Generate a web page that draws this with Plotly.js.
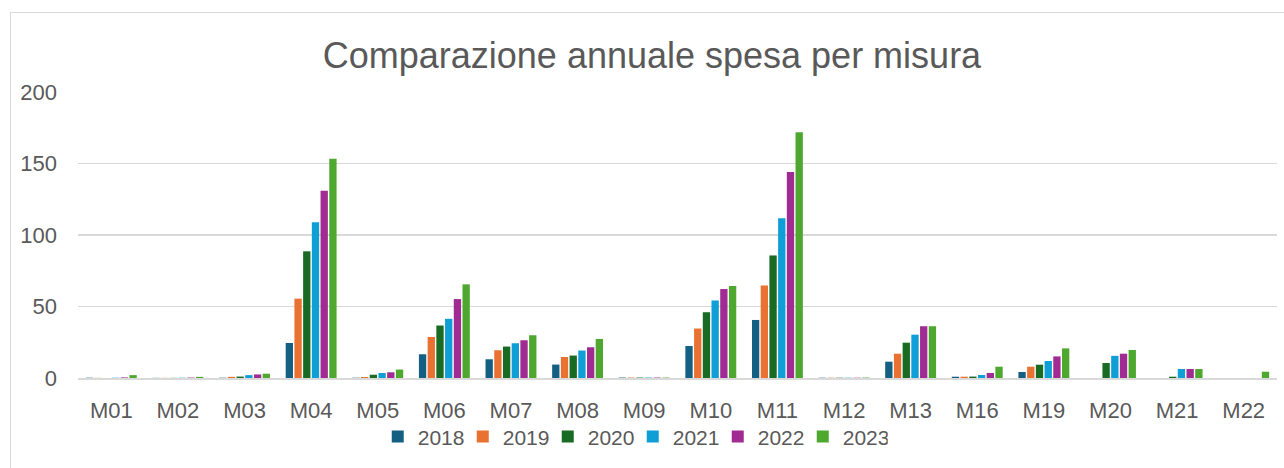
<!DOCTYPE html>
<html><head><meta charset="utf-8">
<script src="https://cdn.plot.ly/plotly-3.0.1.min.js"></script>
<style>
html,body{margin:0;padding:0;background:#fff;}
#wrap{position:absolute;left:10px;top:12px;width:1273px;height:455px;border:1px solid #d9d9d9;background:#fff;}
#chart{width:1273px;height:455px;}
</style></head>
<body><div id="wrap"><div id="chart"></div></div>
<script>
const categories = ["M01","M02","M03","M04","M05","M06","M07","M08","M09","M10","M11","M12","M13","M16","M19","M20","M21","M22"];
const years = ["2018","2019","2020","2021","2022","2023"];
const v2018 = [0.2,0.1,0.2,24.5,0.2,16.6,13.1,9.4,0.3,22.4,40.6,0.2,11.4,0.9,4.2,0,0,0];
const v2019 = [0.1,0.1,0.8,55.5,0.7,28.7,19.4,14.7,0.3,34.6,64.7,0.2,17.0,0.9,7.9,0,0,0];
const v2020 = [0,0.1,1.0,88.6,2.3,36.7,22.0,15.7,0.3,46.0,85.7,0.2,24.7,1.0,9.3,10.5,0.9,0];
const v2021 = [0.2,0.2,2.0,109.0,3.5,41.4,24.3,19.2,0.3,54.2,111.8,0.2,30.3,2.1,11.9,15.5,6.3,0];
const v2022 = [0.4,0.3,2.5,131.0,4.0,55.2,26.4,21.5,0.3,62.2,144.0,0.2,36.2,3.5,15.1,17.0,6.3,0];
const v2023 = [2.0,0.8,3.0,153.4,5.9,65.5,29.9,27.3,0.3,64.3,171.9,0.3,36.2,7.9,20.7,19.6,6.3,4.4];
const seriesValues = [v2018,v2019,v2020,v2021,v2022,v2023];
const colors = ["#156082","#E97132","#196B24","#0F9ED5","#A02B93","#4EA72E"];
const FONT = "Liberation Sans, Arial, sans-serif";
const traces = years.map((y,i)=>({
  type:'bar', name:y, x:categories, y:seriesValues[i],
  marker:{color:colors[i]}, hoverinfo:'x+y+name'
}));
const layout = {
  width:1273, height:455,
  margin:{l:67,r:7,t:79,b:90},
  paper_bgcolor:'#fff', plot_bgcolor:'#fff',
  font:{family:FONT,color:'#595959',size:22},
  title:{text:'Comparazione annuale spesa per misura', font:{family:FONT,size:36,color:'#595959'},
         x:0.5035, xanchor:'center', y:1-42/455, yanchor:'middle', yref:'container'},
  barmode:'group', bargap:0.215, bargroupgap:0.16,
  xaxis:{type:'category', showline:true, linecolor:'#d9d9d9', linewidth:1.5, ticks:'', showgrid:false,
         tickfont:{size:22,color:'#595959'}, ticklabelstandoff:12},
  yaxis:{range:[0,200], dtick:50, showgrid:true, gridcolor:'#d9d9d9', gridwidth:1.3, zeroline:false,
         showline:false, ticks:'', tickfont:{size:22,color:'#595959'}, ticklabelstandoff:20},
  showlegend:true,
  legend:{orientation:'h', x:0.25, xanchor:'left', y:-0.206, yanchor:'middle', bgcolor:'rgba(0,0,0,0)',
          font:{size:21,color:'#595959'}, entrywidth:40, itemwidth:30, traceorder:'normal'}
};
Plotly.newPlot('chart', traces, layout, {displayModeBar:false, staticPlot:true});
</script></body></html>
